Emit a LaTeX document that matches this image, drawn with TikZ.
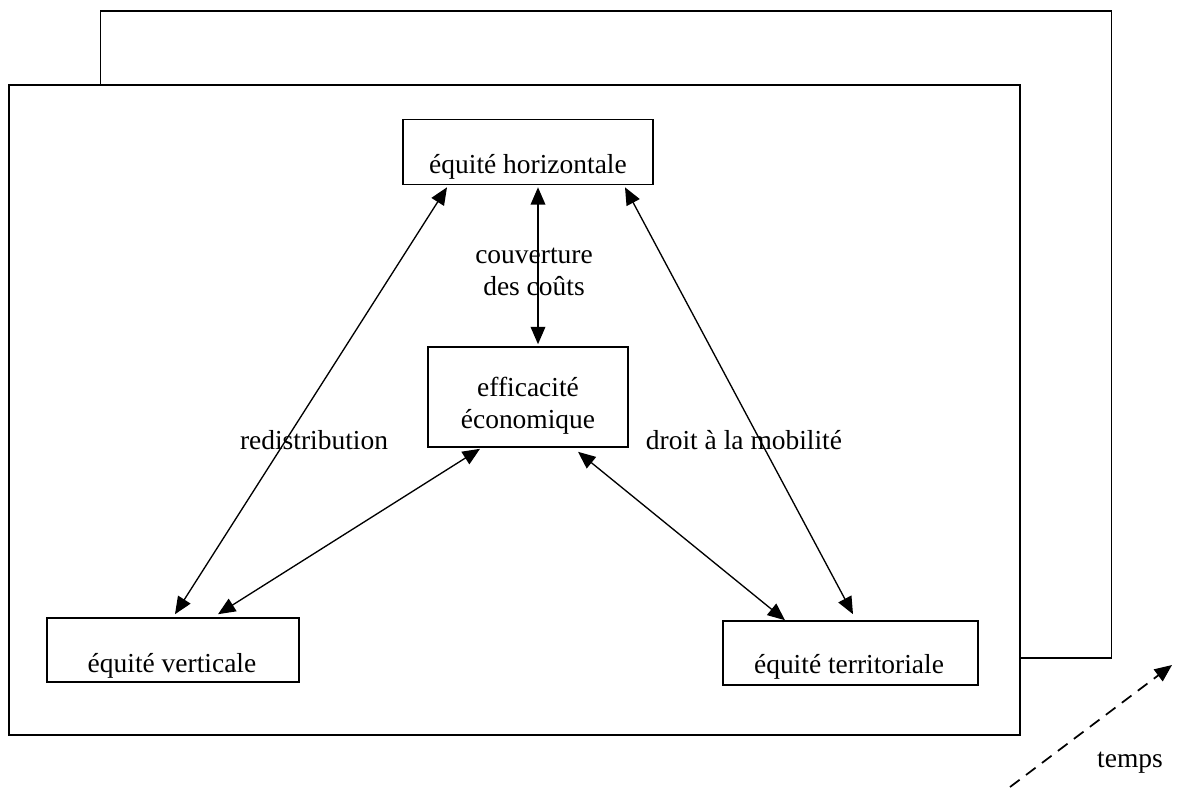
\documentclass[tikz,border=0pt]{standalone}
\usepackage{fontspec}
\setmainfont{Liberation Serif}
\usetikzlibrary{arrows.meta,calc}

\tikzset{every picture/.style={line width=0.75pt}}
\tikzset{
  box/.style={draw, line width=1.2pt, inner sep=0pt},
  frame/.style={draw, line width=1.2pt, fill=white},
  lbl/.style={inner sep=0pt, font=\fontsize{20.6}{24}\selectfont},
  link/.style={line width=1pt, {Triangle[length=13pt,width=11pt]}-{Triangle[length=13pt,width=11pt]}}
}

\begin{document}
\begin{tikzpicture}[x=0.75pt,y=0.75pt,yscale=-1,xscale=1]
			\useasboundingbox (0,0) rectangle (1184,789);
			%Shape: Rectangle [back frame]
			\draw [frame] (100.5,11) rectangle (1111.5,658) ;
			%Shape: Rectangle [front frame]
			\draw [frame] (9,85) rectangle (1020,735) ;

			%Shape: Rectangle [boxes]
			\node [box, minimum width=187.5pt, minimum height=48.75pt] (eh) at (528,152) {};
			\node [box, minimum width=150pt, minimum height=75pt] (ee) at (528,397) {};
			\node [box, minimum width=189pt, minimum height=48pt] (ev) at (173,650) {};
			\node [box, minimum width=191.25pt, minimum height=48pt] (et) at (850.5,653) {};

			% Text Node
			\node [lbl, anchor=base] (eh-t) at (528,173) {équité horizontale};
			% Text Node
			\node [lbl, align=center] (ee-t) at (528,406) {efficacité\\économique};
			% Text Node
			\node [lbl, anchor=base] (ev-t) at (172,672) {équité verticale};
			% Text Node
			\node [lbl, anchor=base] (et-t) at (849,673) {équité territoriale};

			%Straight Lines [links]
			\draw [link] ($(eh.south)+(-81,2)$) -- ($(ev.north)+(2,-3)$) ;
			\draw [link] ($(eh.south)+(10,2)$) -- ($(ee.north)+(10,-2)$) ;
			\draw [link] ($(eh.south)+(97,2)$) -- ($(et.north)+(2.5,-6)$) ;
			\draw [link] ($(ee.south)+(-48,1)$) -- ($(ev.north)+(45,-3)$) ;
			\draw [link] ($(ee.south)+(50,4)$) -- ($(et.north)+(-65.5,0)$) ;

			% Text Node
			\node [lbl, align=center] (cc) at (534,272) {couverture\\des coûts};
			% Text Node
			\node [lbl, anchor=base] (rd) at (314,449) {redistribution};
			% Text Node
			\node [lbl, anchor=base] (dm) at (744,449) {droit à la mobilité};

			%Straight Lines [time axis]
			\coordinate (t0) at (1010,787);
			\coordinate (t1) at (1172,665);
			\draw [line width=1.3pt, dash pattern=on 9pt off 6pt, -{Triangle[length=13pt,width=11pt]}] (t0) -- (t1) ;
			% Text Node
			\node [lbl, anchor=base] (tp) at (1130,767) {temps};
\end{tikzpicture}
\end{document}
